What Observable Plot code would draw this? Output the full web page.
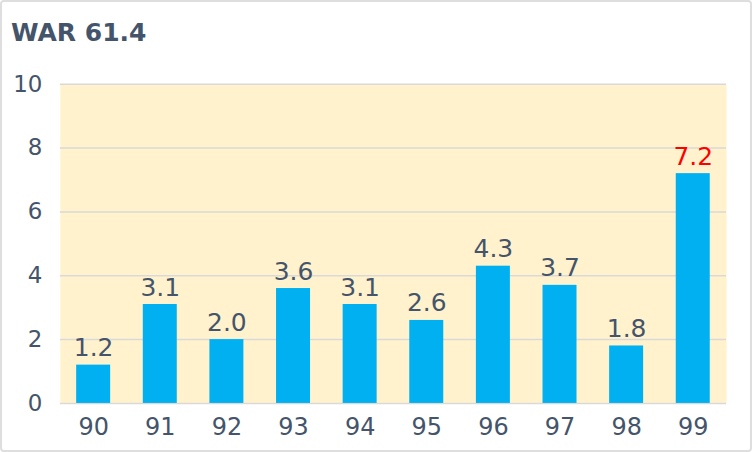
<!DOCTYPE html>
<html>
<head>
<meta charset="utf-8">
<script src="https://cdn.jsdelivr.net/npm/d3@7"></script>
<script src="https://cdn.jsdelivr.net/npm/@observablehq/plot@0.6"></script>
<style>
  html, body { margin: 0; padding: 0; background: #fff; }
  #card { position: relative; width: 752px; height: 452px; box-sizing: border-box; border: 2px solid #dedede; border-radius: 4px; background: #fff; overflow: hidden; }
  #title { position: absolute; left: 9px; top: 14px; line-height: 34px; font-size: 25px; font-weight: bold; color: #44546a; font-family: "DejaVu Sans", sans-serif; }
  #chart { position: absolute; left: -2px; top: -2px; }
</style>
</head>
<body>
<div id="card">
  <div id="title">WAR 61.4</div>
  <div id="chart"></div>
</div>
<script>
const seasons = ["90", "91", "92", "93", "94", "95", "96", "97", "98", "99"];
const war = [1.2, 3.1, 2.0, 3.6, 3.1, 2.6, 4.3, 3.7, 1.8, 7.2];
const highlight = ["99"];
const yTicks = [0, 2, 4, 6, 8, 10];

const data = seasons.map((s, i) => ({season: s, war: war[i], hot: highlight.includes(s)}));

const chart = Plot.plot({
  width: 752,
  height: 452,
  marginLeft: 60,
  marginRight: 24,
  marginTop: 84,
  marginBottom: 48,
  style: {fontFamily: "'DejaVu Sans', sans-serif", background: "transparent", overflow: "visible"},
  x: {domain: seasons, paddingInner: 0.49, paddingOuter: 0.245, round: false, label: null},
  y: {domain: [0, 10], ticks: yTicks, label: null},
  marks: [
    Plot.frame({fill: "#fff2cc", stroke: null}),
    Plot.gridY(yTicks, {stroke: "#d9d9d9", strokeOpacity: 1, strokeWidth: 1.5}),
    Plot.barY(data, {x: "season", y: "war", fill: "#00b0f0"}),
    Plot.text(data, {x: "season", y: "war", text: d => d.war.toFixed(1), dy: -17, fontSize: 25, fill: d => d.hot ? "#ff0000" : "#44546a"}),
    Plot.axisX({tickSize: 0, tickPadding: 15, fontSize: 24, color: "#44546a", label: null}),
    Plot.axisY({ticks: yTicks, tickSize: 0, tickPadding: 18, fontSize: 23, color: "#44546a", label: null})
  ]
});
document.getElementById("chart").appendChild(chart);
</script>
</body>
</html>
